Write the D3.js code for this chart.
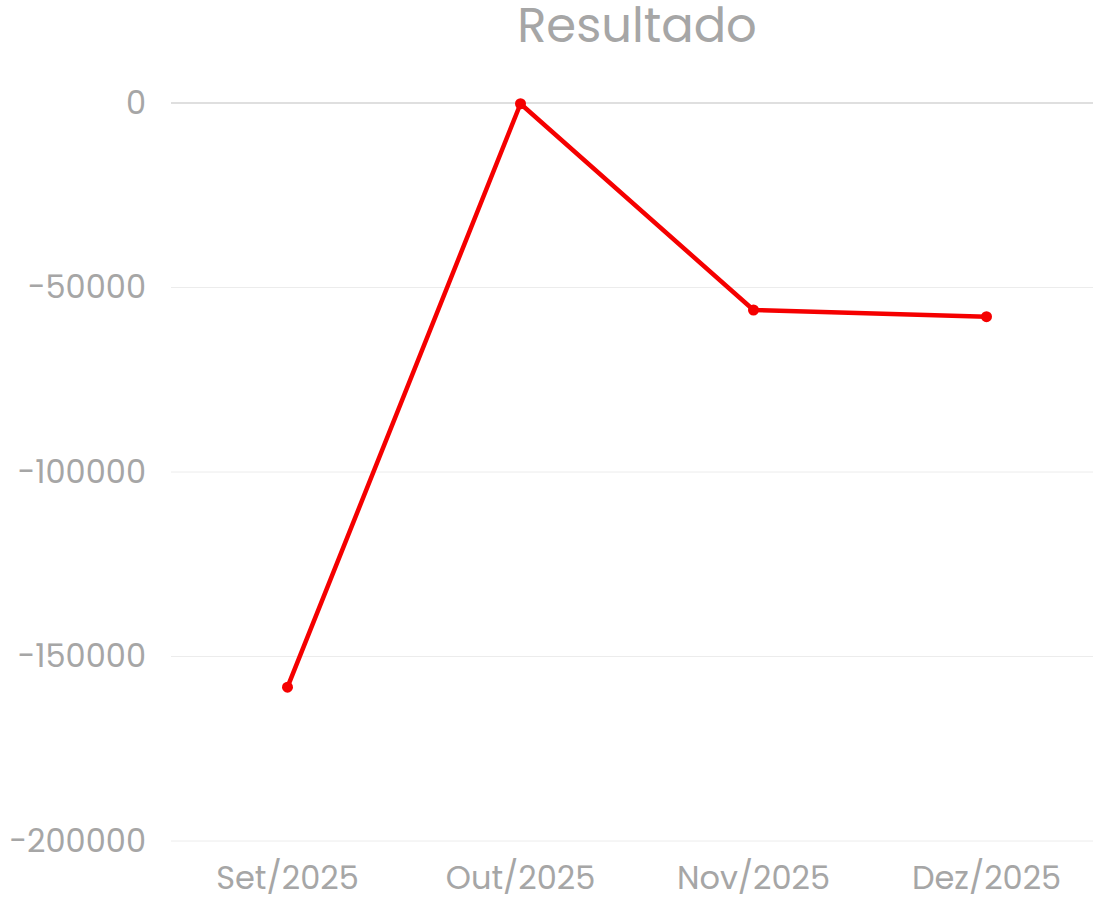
<!DOCTYPE html>
<html>
<head>
<meta charset="utf-8">
<script src="https://cdn.jsdelivr.net/npm/d3@7"></script>
<style>
    body { margin: 0; background: #fff; }
    text { font-family: Poppins, "Open Sans", sans-serif; fill: #a6a6a6; }
</style>
</head>
<body>
<div id="container"></div>
<script>
// 数据
const months = ['Set/2025', 'Out/2025', 'Nov/2025', 'Dez/2025'];
const resultado = [-158300, -200, -56100, -57900];
const yTicks = [0, -50000, -100000, -150000, -200000];

const width = 1093;
const height = 902;
const margin = {left: 171, right: -10, top: 103, bottom: 61};
const innerWidth = width - margin.left - margin.right;
const innerHeight = height - margin.top - margin.bottom;

const svg = d3.select('#container')
    .append('svg')
    .attr('width', width)
    .attr('height', height);
const g = svg.append('g')
    .attr('transform', `translate(${margin.left},${margin.top})`);

// 比例尺
const xScale = d3.scaleBand().domain(months).range([0, innerWidth]);
const yScale = d3.scaleLinear().domain([-200000, 0]).range([innerHeight, 0]);

// 网格线
g.selectAll('.grid')
    .data(yTicks)
    .enter()
    .append('line')
    .attr('x1', 0)
    .attr('x2', innerWidth)
    .attr('y1', d => yScale(d))
    .attr('y2', d => yScale(d))
    .attr('stroke', d => d === 0 ? '#d4d4d4' : '#ececec')
    .attr('stroke-width', d => d === 0 ? 1.5 : 1);

// y 轴
const yAxisG = g.append('g')
    .call(d3.axisLeft(yScale).tickValues(yTicks).tickFormat(d => d).tickSize(0).tickPadding(25));
yAxisG.select('.domain').remove();
yAxisG.selectAll('text')
    .style('font-size', '32px')
    .attr('fill', '#a6a6a6');

// x 轴
const xAxisG = g.append('g')
    .attr('transform', `translate(0,${innerHeight})`)
    .call(d3.axisBottom(xScale).tickSize(0).tickPadding(25));
xAxisG.select('.domain').remove();
xAxisG.selectAll('text')
    .style('font-size', '32px')
    .attr('fill', '#a6a6a6');

// 标题
svg.append('text')
    .attr('x', margin.left + innerWidth / 2)
    .attr('y', 42)
    .attr('text-anchor', 'middle')
    .style('font-size', '48px')
    .text('Resultado');

// 折线
const points = months.map((m, i) => ({name: m, value: resultado[i]}));
const line = d3.line()
    .x(d => xScale(d.name) + xScale.bandwidth() / 2)
    .y(d => yScale(d.value));

g.append('path')
    .datum(points)
    .attr('d', line)
    .attr('fill', 'none')
    .attr('stroke', '#f50000')
    .attr('stroke-width', 4.5)
    .attr('stroke-linejoin', 'round');

g.selectAll('.dot')
    .data(points)
    .enter()
    .append('circle')
    .attr('cx', d => xScale(d.name) + xScale.bandwidth() / 2)
    .attr('cy', d => yScale(d.value))
    .attr('r', 5.5)
    .attr('fill', '#f50000');
</script>
</body>
</html>
